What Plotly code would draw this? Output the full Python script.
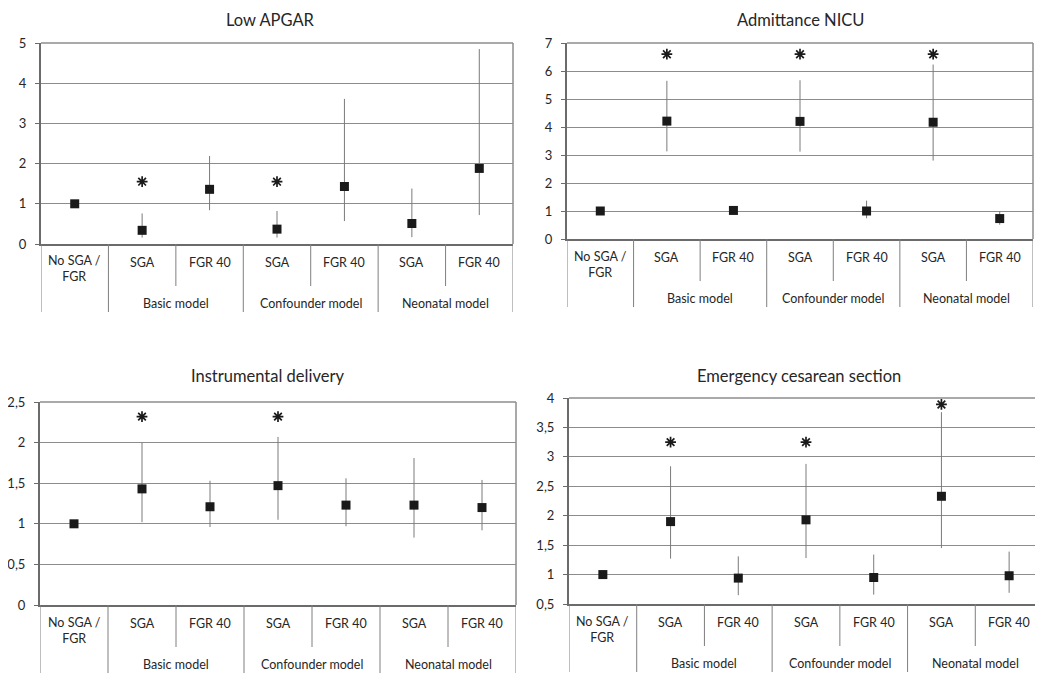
import plotly.graph_objects as go

# target picture size and page offset (default body margin of the html page)
PW, PH = 1043, 681
OFF = 8
W, H = PW - OFF, PH - OFF

categories = ["No SGA /<br>FGR", "SGA", "FGR 40", "SGA", "FGR 40", "SGA", "FGR 40"]
groups = ["Basic model", "Confounder model", "Neonatal model"]

titles = ["Low APGAR", "Admittance NICU", "Instrumental delivery", "Emergency cesarean section"]

# odds ratios, lower and upper CI
apgar_or = [1.0, 0.34, 1.36, 0.37, 1.43, 0.51, 1.88]
apgar_lo = [1.0, 0.16, 0.84, 0.16, 0.57, 0.17, 0.72]
apgar_hi = [1.0, 0.76, 2.19, 0.82, 3.61, 1.38, 4.85]
apgar_star = [None, 1.55, None, 1.55, None, None, None]

nicu_or = [1.0, 4.21, 1.02, 4.20, 1.00, 4.17, 0.73]
nicu_lo = [1.0, 3.13, 0.88, 3.12, 0.74, 2.80, 0.51]
nicu_hi = [1.0, 5.65, 1.17, 5.67, 1.37, 6.23, 1.00]
nicu_star = [None, 6.6, None, 6.6, None, 6.6, None]

instr_or = [1.0, 1.43, 1.21, 1.47, 1.23, 1.23, 1.20]
instr_lo = [1.0, 1.02, 0.96, 1.05, 0.97, 0.83, 0.92]
instr_hi = [1.0, 2.00, 1.53, 2.07, 1.56, 1.81, 1.54]
instr_star = [None, 2.32, None, 2.32, None, None, None]

cs_or = [1.0, 1.90, 0.94, 1.93, 0.95, 2.33, 0.98]
cs_lo = [1.0, 1.27, 0.65, 1.28, 0.66, 1.45, 0.69]
cs_hi = [1.0, 2.84, 1.31, 2.88, 1.34, 3.76, 1.39]
cs_star = [None, 3.25, None, 3.25, None, 3.89, None]

y_ranges = [(0, 5), (0, 7), (0, 2.5), (0.5, 4)]
y_steps = [1, 1, 0.5, 0.5]

series = [
    (apgar_or, apgar_lo, apgar_hi, apgar_star),
    (nicu_or, nicu_lo, nicu_hi, nicu_star),
    (instr_or, instr_lo, instr_hi, instr_star),
    (cs_or, cs_lo, cs_hi, cs_star),
]

# layout (pixels in the target picture)
px_x = [(41, 513), (567, 1033), (40, 516), (569, 1043)]
px_y = [(43, 244), (43, 239), (402, 605), (398, 604)]
title_pos = [(270, 20), (800, 20), (267, 376), (799, 376)]

FONT = "Lato, Open Sans, sans-serif"
TXT = "#262626"
GRID = "#8c8c8c"

fig = go.Figure()
shapes = []
annotations = []

def fx(p):
    return (p - OFF) / W

def fy(p):
    return 1 - (p - OFF) / H

for i in range(4):
    n = i + 1
    xa = "x" if n == 1 else f"x{n}"
    ya = "y" if n == 1 else f"y{n}"
    vals, lo, hi, star = series[i]
    xs = list(range(len(categories)))
    fig.add_trace(go.Scatter(
        x=xs, y=vals, xaxis=xa, yaxis=ya, mode="markers",
        marker=dict(symbol="square", size=9, color="#1a1a1a"),
        error_y=dict(type="data", symmetric=False,
                     array=[h - v for h, v in zip(hi, vals)],
                     arrayminus=[v - l for v, l in zip(vals, lo)],
                     width=0, thickness=1, color="#7a7a7a"),
        showlegend=False, hoverinfo="skip", cliponaxis=False))
    sx = [x for x, s in zip(xs, star) if s is not None]
    sy = [s for s in star if s is not None]
    fig.add_trace(go.Scatter(
        x=sx, y=sy, xaxis=xa, yaxis=ya, mode="markers",
        marker=dict(symbol="asterisk-open", size=9, color="#1a1a1a",
                    line=dict(color="#1a1a1a", width=1.7)),
        showlegend=False, hoverinfo="skip", cliponaxis=False))

    r0, r1 = y_ranges[i]
    step = y_steps[i]
    nt = int(round((r1 - r0) / step))
    tv = [r0 + k * step for k in range(nt + 1)]
    tt = [("%g" % v).replace(".", ",") for v in tv]

    x0p, x1p = px_x[i]
    ytop, ybot = px_y[i]
    fig.layout[f"xaxis{'' if n == 1 else n}"] = dict(
        domain=[fx(x0p), min(fx(x1p), 1)], range=[-0.5, len(categories) - 0.5],
        anchor=ya, showticklabels=False, showgrid=False, zeroline=False,
        showline=True, linecolor="#6b6b6b", linewidth=2, ticks="", fixedrange=True,
        automargin=False)
    fig.layout[f"yaxis{'' if n == 1 else n}"] = dict(
        domain=[fy(ybot), fy(ytop)], range=[r0, r1], anchor=xa,
        tickvals=tv, ticktext=tt, showgrid=True, gridcolor=GRID, gridwidth=1,
        zeroline=False, showline=True, linecolor="#6b6b6b", linewidth=2,
        ticks="outside", ticklen=4, tickcolor="#6b6b6b", ticklabelstandoff=6,
        tickfont=dict(family=FONT, size=13, color=TXT), fixedrange=True,
        automargin=False)

    # top/right border
    shapes.append(dict(type="line", xref=f"{xa} domain", yref=f"{ya} domain",
                       x0=0, x1=1, y0=1, y1=1, line=dict(color=GRID, width=1.5)))
    shapes.append(dict(type="line", xref=f"{xa} domain", yref=f"{ya} domain",
                       x0=1, x1=1, y0=0, y1=1, line=dict(color=GRID, width=1.5)))

    # category separators
    for k in range(len(categories) + 1):
        b = k - 0.5
        long_line = (k % 2 == 1) or k == 0 or k == len(categories)
        depth = 68 if long_line else 42
        shapes.append(dict(type="line", xref=xa, yref="paper",
                           x0=b, x1=b, y0=fy(ybot), y1=fy(ybot + depth),
                           line=dict(color="#7f7f7f", width=1)))
    # category labels
    for k, c in enumerate(categories):
        two = "<br>" in c
        annotations.append(dict(xref=xa, yref="paper", x=k, y=fy(ybot + (25 if two else 18)),
                                text=c, showarrow=False, yanchor="middle",
                                font=dict(family=FONT, size=12.5, color=TXT)))
    for g, name in enumerate(groups):
        annotations.append(dict(xref=xa, yref="paper", x=1.5 + 2 * g, y=fy(ybot + 59),
                                text=name, showarrow=False, yanchor="middle",
                                font=dict(family=FONT, size=12.5, color=TXT)))
    # title
    tx, ty = title_pos[i]
    annotations.append(dict(xref="paper", yref="paper", x=fx(tx), y=fy(ty),
                            text=titles[i], showarrow=False, xanchor="center", yanchor="middle",
                            font=dict(family=FONT, size=16.5, color=TXT)))

fig.update_layout(
    width=W, height=H, margin=dict(l=0, r=0, t=0, b=0, autoexpand=False),
    paper_bgcolor="white", plot_bgcolor="white",
    shapes=shapes, annotations=annotations, separators=", ",
    font=dict(family=FONT, color=TXT))

fig.write_html("out.html")
